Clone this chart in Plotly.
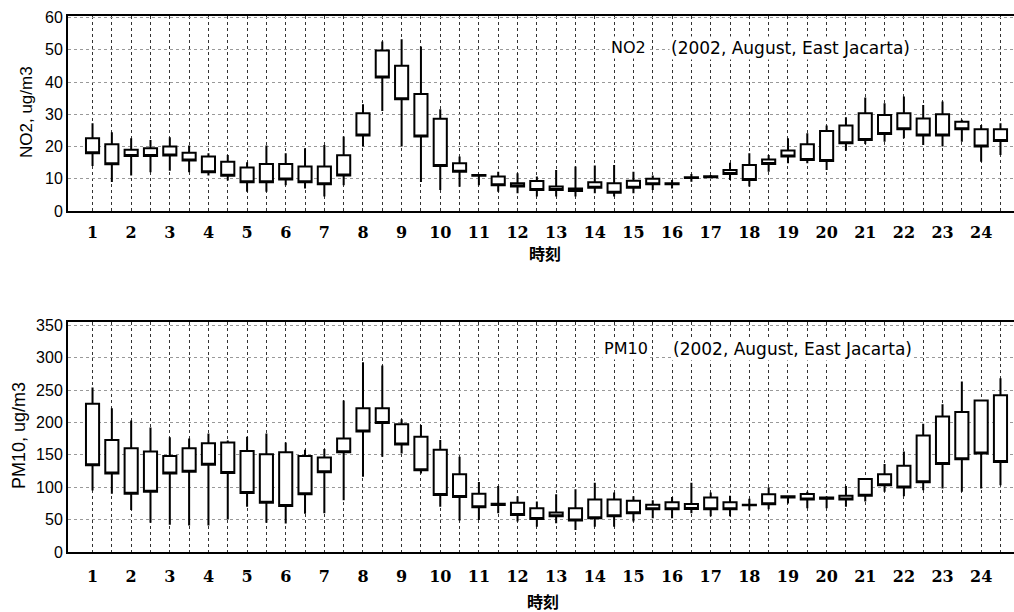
import plotly.graph_objects as go

# ---------------- data ----------------
hours = list(range(1, 25))          # tick labels (two boxes per hour)

# NO2 (ug/m3): whisker low, box bottom, box top, whisker high
no2_lo = [14, 9, 11, 12, 12.5, 12, 11, 9.5, 6, 6, 8, 7, 4.5, 8,
          20, 31, 20, 9, 6.5, 7.5, 8, 6, 5.5, 4.5, 4.5, 4.5, 5.5, 4.5,
          5.5, 6.5, 7, 9.1, 10.2, 9.6, 7.6, 12.2, 14.8, 14.8, 12.7, 18.7,
          20.8, 21.5, 22.6, 20.5, 20, 21.5, 15.3, 17.4]
no2_q1 = [17.9, 14.5, 17.1, 17.1, 17.2, 15.7, 12.0, 10.9, 8.9, 8.9, 9.8, 8.9, 8.3, 11.0,
          23.4, 41.4, 34.7, 23.1, 14.0, 12.2, 10.9, 8.0, 7.6, 6.5, 6.5, 6.2, 7.2, 5.7,
          7.2, 8.3, 8.3, 10.2, 10.5, 11.5, 9.6, 14.6, 16.9, 15.8, 15.5, 21.0,
          22.0, 23.9, 25.4, 23.4, 23.4, 25.4, 20.0, 21.7]
no2_q3 = [22.6, 20.7, 19.0, 19.5, 20.0, 18.1, 16.9, 15.3, 13.5, 14.6, 14.6, 13.8, 13.8, 17.3,
          30.3, 49.8, 45.1, 36.3, 28.6, 14.8, 11.2, 10.7, 8.6, 9.3, 7.6, 7.0, 8.9, 8.6,
          9.4, 10.0, 8.6, 10.5, 10.8, 12.7, 14.3, 16.0, 18.8, 20.7, 24.8, 26.5,
          30.3, 29.8, 30.3, 28.7, 30.0, 27.7, 25.4, 25.4]
no2_hi = [27.2, 24.4, 22.6, 22.0, 22.9, 20.3, 17.9, 17.4, 15.1, 20.3, 17.9, 19.5, 20.5, 23.1,
          33.1, 52.6, 53.3, 51.0, 31.6, 16.9, 11.3, 12.2, 11.7, 10.7, 12.7, 13.8, 14.1, 14.3,
          12.2, 11.0, 9.6, 11.5, 11.2, 15.0, 17.9, 17.4, 22.6, 24.1, 26.5, 29.1,
          35.2, 33.4, 35.5, 32.9, 34.0, 28.3, 26.7, 27.2]

# PM10 (ug/m3)
pm_lo = [95, 90, 65, 45, 42, 41, 41, 50, 70, 45, 44, 59, 60, 80,
         116, 147, 152, 121, 70, 48.5, 49.5, 60, 47, 39, 44.5, 34, 39, 39,
         47, 52, 52, 60, 55, 55, 64, 66, 75, 67.5, 67.5, 70,
         78, 93, 86, 95.4, 98, 93, 98, 103]
pm_q1 = [134, 121, 90, 93, 121, 124, 134.5, 122, 91, 76, 71, 89, 123, 154,
         186, 199, 166, 126, 88, 85, 69, 72.5, 57, 51, 55, 48.5, 52, 55,
         60, 66, 66, 66.4, 66, 66, 72, 73.6, 84, 81, 82, 81,
         87, 103, 99.5, 107.6, 136, 143, 152, 139]
pm_q3 = [229, 173, 160, 155, 148, 160, 168, 169, 156, 151, 154, 148, 146, 175,
         222, 222, 197, 178, 158, 120, 90, 74.5, 76, 67.5, 61, 67.5, 81, 81,
         79, 73, 76.6, 74, 84, 76.6, 73, 89, 86, 89.4, 84, 87,
         112.7, 120, 133, 180, 209, 216, 234, 242]
pm_hi = [254, 222, 203, 192, 177, 175, 183, 172, 178, 183, 169, 158, 159, 234,
         293, 288, 205, 196, 173, 147, 108, 102, 86, 78, 89, 97, 107, 92,
         86, 80, 85, 107, 92, 87, 82, 100, 87, 93, 86, 102,
         113, 136, 155, 198, 228, 263, 234, 268]

# ---------------- figure ----------------
n = len(no2_q1)
xpos = list(range(n))
ticktext = []
for i in range(n):
    ticktext.append(str(hours[i // 2]) if i % 2 == 0 else "")

W, H = 1014, 612
ML, MR, MT, MB = 68, 0, 16, 60
PW, PH = W - ML - MR, H - MT - MB


def px(xp):
    return (xp - ML) / PW


def py(yp):
    return (H - MB - yp) / PH


box_style = dict(fillcolor="white", line=dict(color="black", width=2),
                 whiskerwidth=0, width=0.68, boxpoints=False,
                 showlegend=False, hoverinfo="skip")

fig = go.Figure()
fig.add_trace(go.Box(x=xpos, q1=no2_q1, median=no2_q1, q3=no2_q3,
                     lowerfence=no2_lo, upperfence=no2_hi,
                     xaxis="x", yaxis="y", **box_style))
fig.add_trace(go.Box(x=xpos, q1=pm_q1, median=pm_q1, q3=pm_q3,
                     lowerfence=pm_lo, upperfence=pm_hi,
                     xaxis="x2", yaxis="y2", **box_style))

xr = [-1.27, 47.7]
xcommon = dict(range=xr, tickmode="array", tickvals=xpos, ticktext=ticktext,
               showgrid=True, gridcolor="#333", griddash="dot", gridwidth=1,
               showline=True, linecolor="black", linewidth=2, mirror=True,
               ticks="", zeroline=False,
               tickfont=dict(family="DejaVu Serif", size=16, color="black",
                             weight="bold"))
ycommon = dict(showgrid=True, gridcolor="#999", griddash="dot", gridwidth=1,
               showline=True, linecolor="black", linewidth=2, mirror=False,
               ticks="", zeroline=False,
               tickfont=dict(family="Liberation Sans", size=16, color="black"))

top_dom = [py(211), 1.0]
bot_dom = [0.0, py(322)]

fig.update_layout(
    width=W, height=H,
    margin=dict(l=ML, r=MR, t=MT, b=MB),
    paper_bgcolor="white", plot_bgcolor="white",
    xaxis=dict(domain=[0, 1], anchor="y", ticklabelstandoff=6, **xcommon),
    yaxis=dict(domain=top_dom, anchor="x", range=[0, 60.5],
               tickvals=[0, 10, 20, 30, 40, 50, 60], **ycommon),
    xaxis2=dict(domain=[0, 1], anchor="y2", ticklabelstandoff=9, **xcommon),
    yaxis2=dict(domain=bot_dom, anchor="x2", range=[0, 355],
                tickvals=[0, 50, 100, 150, 200, 250, 300, 350], **ycommon),
)

lab_font = dict(family="DejaVu Sans", size=16, color="black")
long_font = dict(family="DejaVu Sans", size=17, color="black")
ann = [
    dict(text="NO2", x=px(628), y=py(48), font=lab_font, bgcolor="white"),
    dict(text="(2002, August, East Jacarta)", x=px(790), y=py(48), font=long_font, bgcolor="white"),
    dict(text="PM10", x=px(626), y=py(349), font=lab_font, bgcolor="white"),
    dict(text="(2002, August, East Jacarta)", x=px(792), y=py(349), font=long_font, bgcolor="white"),
    dict(text="時刻", x=px(545), y=py(253),
         font=dict(family="Noto Sans CJK JP", size=16, color="black", weight="bold")),
    dict(text="時刻", x=px(543), y=py(601),
         font=dict(family="Noto Sans CJK JP", size=16, color="black", weight="bold")),
    dict(text="NO2, ug/m3", x=px(27), y=py(112), textangle=-90,
         font=dict(family="Liberation Sans", size=17, color="black")),
    dict(text="PM10, ug/m3", x=px(19), y=py(436), textangle=-90,
         font=dict(family="Liberation Sans", size=18, color="black")),
]
for a in ann:
    a.update(xref="paper", yref="paper", xanchor="center", yanchor="middle",
             showarrow=False)
fig.update_layout(annotations=ann)

fig.write_html("out.html")
